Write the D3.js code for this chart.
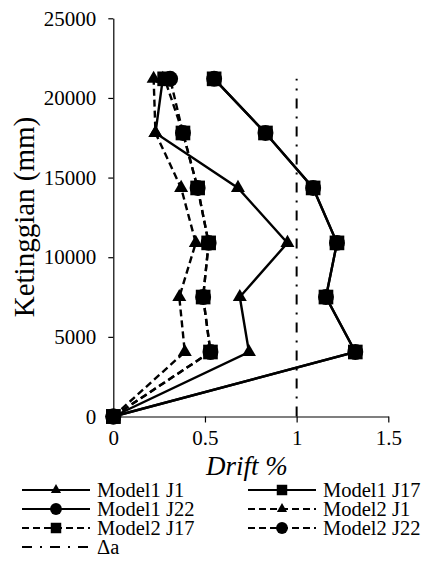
<!DOCTYPE html>
<html><head><meta charset="utf-8">
<script src="https://cdn.jsdelivr.net/npm/d3@7"></script>
<style>body{margin:0;background:#fff}svg{display:block}</style>
</head><body><svg id="c" width="433" height="562"></svg>
<script>
const heights = [0, 4050, 7500, 10900, 14350, 17800, 21200];
const model1J1 = [0, 0.74, 0.69, 0.95, 0.68, 0.23, 0.27];
const model1J17 = [0, 1.32, 1.16, 1.22, 1.09, 0.83, 0.55];
const model1J22 = [0, 1.32, 1.16, 1.22, 1.09, 0.83, 0.55];
const model2J1 = [0, 0.39, 0.36, 0.45, 0.37, 0.23, 0.22];
const model2J17 = [0, 0.53, 0.49, 0.52, 0.46, 0.38, 0.28];
const model2J22 = [0, 0.53, 0.49, 0.52, 0.46, 0.38, 0.31];
const deltaX = [1, 1];
const deltaH = [0, 21200];
const xTicks = [0, 0.5, 1, 1.5];
const yTicks = [0, 5000, 10000, 15000, 20000, 25000];

const FONT = '"Liberation Serif","Times New Roman","DejaVu Serif",serif';
const DASH = "7,4";
const DASHDOT = "10,8,2,8";
const series = [
  {name:"Model1 J1", vals:model1J1, dash:null, sym:"tri"},
  {name:"Model1 J17", vals:model1J17, dash:null, sym:"sq"},
  {name:"Model1 J22", vals:model1J22, dash:null, sym:"circ"},
  {name:"Model2 J1", vals:model2J1, dash:DASH, sym:"tri"},
  {name:"Model2 J17", vals:model2J17, dash:DASH, sym:"sq"},
  {name:"Model2 J22", vals:model2J22, dash:DASH, sym:"circ"}
];

const svg = d3.select("#c");
const x = d3.scaleLinear().domain([0,1.5]).range([113.3,388.3]);
const y = d3.scaleLinear().domain([0,25000]).range([416.5,18.3]);

const ya = svg.append("g").attr("transform","translate(113.3,0)")
  .call(d3.axisLeft(y).tickValues(yTicks).tickSize(5).tickSizeOuter(0).tickPadding(12).tickFormat(d3.format("d")));
ya.attr("font-family",null);
ya.select(".domain").attr("stroke","#000").attr("stroke-width",1.2);
ya.selectAll(".tick line").attr("stroke-width",1.2);
ya.selectAll("text").style("font-size","21px").style("font-family",FONT).attr("fill","#000");
const xa = svg.append("g").attr("transform","translate(0,416.5)")
  .call(d3.axisBottom(x).tickValues(xTicks).tickSize(6).tickSizeOuter(0).tickPadding(8).tickFormat(d=>String(d)));
xa.attr("font-family",null);
xa.select(".domain").attr("stroke","#000").attr("stroke-width",1.2);
xa.selectAll(".tick line").attr("stroke-width",1.2);
xa.selectAll("text").style("font-size","21px").style("font-family",FONT).attr("fill","#000");

const symMap = {tri:d3.symbolTriangle, sq:d3.symbolSquare, circ:d3.symbolCircle};
const symSize = {tri:85, sq:215, circ:200};

const line = d3.line().x(d=>x(d[0])).y(d=>y(d[1]));

svg.append("path").datum(deltaX.map((v,i)=>[v,deltaH[i]]))
  .attr("d",line).attr("fill","none").attr("stroke","#000").attr("stroke-width",2)
  .attr("stroke-dasharray",DASHDOT);

const order = [2,5,0,3,4,1];
order.forEach(i=>{
  const s = series[i];
  const pts = s.vals.map((v,k)=>[v,heights[k]]);
  svg.append("path").datum(pts).attr("d",line).attr("fill","none")
    .attr("stroke","#000").attr("stroke-width",2.4).attr("stroke-dasharray",s.dash);
  svg.append("g").selectAll("path").data(pts).join("path")
    .attr("transform",d=>`translate(${x(d[0])},${y(d[1])})`)
    .attr("d",d3.symbol().type(symMap[s.sym]).size(symSize[s.sym])).attr("fill","#000");
});

svg.append("text").attr("transform","translate(34,217) rotate(-90)").attr("text-anchor","middle")
  .style("font-family",FONT).style("font-size","29px").text("Ketinggian (mm)");
svg.append("text").attr("x",247).attr("y",475).attr("text-anchor","middle")
  .style("font-family",FONT).style("font-size","27px").style("font-style","italic").text("Drift %");

const legItems = [
  {s:series[0], col:0,row:0},{s:series[1],col:1,row:0},
  {s:series[2], col:0,row:1},{s:series[3],col:1,row:1},
  {s:series[4], col:0,row:2},{s:series[5],col:1,row:2},
  {s:{name:"Δa", dash:DASHDOT, sym:null, delta:true}, col:0,row:3}
];
const colX = [22,248], rowY = [490,509,528,547];
legItems.forEach(it=>{
  const x0 = colX[it.col], yy = rowY[it.row];
  const g = svg.append("g");
  g.append("line").attr("x1",x0).attr("x2",x0+68).attr("y1",yy).attr("y2",yy)
    .attr("stroke","#000").attr("stroke-width",2).attr("stroke-dasharray",it.s.dash);
  if(it.s.sym){
    g.append("path").attr("transform",`translate(${x0+34},${yy})`)
      .attr("d",d3.symbol().type(symMap[it.s.sym]).size(it.s.sym==="tri"?45:110)).attr("fill","#000");
  }
  g.append("text").attr("x",x0+75).attr("y",yy+7).style("font-family",FONT).style("font-size","20.5px").text(it.s.name);
});
</script></body></html>
